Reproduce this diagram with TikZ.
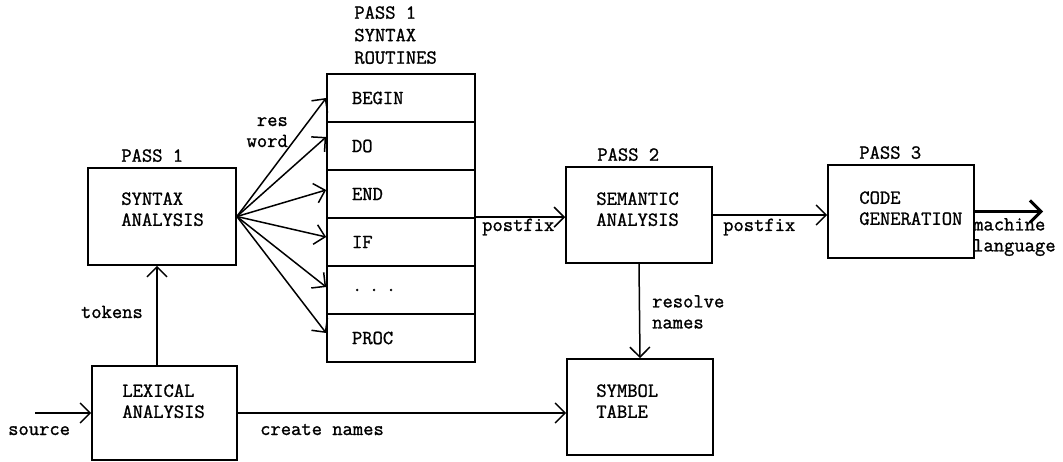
\documentclass[tikz,border=0pt]{standalone}
\usepackage{fontspec}
\newfontfamily\typefam{Latin Modern Mono}[FakeBold=1.2]
\usetikzlibrary{arrows.meta, positioning}
\newcommand{\typew}{\fontsize{20}{21}\selectfont\typefam}
\tikzset{
  passbox/.style={rectangle, draw, line width=1.7pt, minimum width=146pt,
                  minimum height=#1, inner sep=0pt},
  passbox/.default=96pt,
  rowbox/.style={rectangle, draw, line width=1.7pt, minimum width=148pt,
                 minimum height=48pt, text width=98pt, inner xsep=25pt,
                 inner ysep=0pt, align=left, font=\typew},
  boxtxt/.style={align=left, inner sep=0pt, font=\typew},
  arrow/.style={-{Straight Barb[length=10pt, width=20pt]}, line width=1.5pt},
  bigarrow/.style={-{Straight Barb[length=11pt, width=22pt]}, line width=3pt},
}

\begin{document}
\begin{tikzpicture}[x=1pt, y=-1pt]
  \useasboundingbox (0,0) rectangle (1063,462);

  % pass boxes
  \node[passbox=97pt, minimum width=148pt] (syn) at (162,216.5) {};
  \node[passbox=94pt, minimum width=145pt] (lex) at (164.5,413) {};
  \node[passbox] (sem) at (639,215) {};
  \node[passbox=93pt] (code) at (901,211.5) {};
  \node[passbox] (sym) at (640,407) {};

  \node[boxtxt, below right=25pt and 34pt of syn.north west] (syntxt) {SYNTAX\\ANALYSIS};
  \node[boxtxt, below right=19pt and 31pt of lex.north west] (lextxt) {LEXICAL\\ANALYSIS};
  \node[boxtxt, below right=26pt and 31pt of sem.north west] (semtxt) {SEMANTIC\\ANALYSIS};
  \node[boxtxt, below right=27pt and 32pt of code.north west] (codetxt) {CODE\\GENERATION};
  \node[boxtxt, below right=26pt and 30pt of sym.north west] (symtxt) {SYMBOL\\TABLE};

  \node[boxtxt, above right=5pt and 34pt of syn.north west] (synpass) {PASS 1};
  \node[boxtxt, above right=5pt and 32pt of sem.north west] (sempass) {PASS 2};
  \node[boxtxt, above right=5pt and 32pt of code.north west] (codepass) {PASS 3};

  % syntax routines
  \node[rowbox] (rbegin) at (401,98) {BEGIN};
  \node[rowbox] (rdo) at (401,146) {DO};
  \node[rowbox] (rend) at (401,194) {END};
  \node[rowbox] (rif) at (401,242) {IF};
  \node[rowbox] (rdots) at (401,290) {.\ .\ .};
  \node[rowbox] (rproc) at (401,338) {PROC};
  \node[boxtxt, above right=9pt and 28pt of rbegin.north west] (routhead) {PASS 1\\[1.5pt]SYNTAX\\[1.5pt]ROUTINES};

  \draw[arrow] (syn.east) -- (rbegin.west);
  \draw[arrow] (syn.east) -- ([yshift=9pt]rdo.west);
  \draw[arrow] (syn.east) -- ([yshift=4pt]rend.west);
  \draw[arrow] (syn.east) -- ([yshift=5pt]rif.west);
  \draw[arrow] (syn.east) -- ([yshift=3pt]rdots.west);
  \draw[arrow] (syn.east) -- ([yshift=5pt]rproc.west);
  \node[boxtxt, align=right, anchor=north east] (reslbl) at (288,117) {res\\word};

  % postfix flow
  \draw[arrow] (rif.north east) -- (rif.north east -| sem.west);
  \node[boxtxt, anchor=base west] (pf1) at (482,231) {postfix};
  \draw[arrow] (sem.east) -- (sem.east -| code.west);
  \node[boxtxt, anchor=base west] (pf2) at (723,231) {postfix};
  \coordinate (mout) at (1043,211.5);
  \draw[bigarrow] (code.east) -- (mout);
  \node[boxtxt, anchor=north west] (mlang) at (973,218) {machine\\language};

  % names
  \draw[arrow] (sem.south) -- (sym.north);
  \node[boxtxt, anchor=north west] (reslv) at (652,295) {resolve\\names};
  \draw[arrow] (lex.east) -- (lex.east -| sym.west);
  \node[boxtxt, anchor=base west] (crnames) at (260,435) {create names};

  % tokens and source
  \coordinate (tokup) at ([xshift=-5pt]syn.south);
  \draw[arrow] (tokup |- lex.north) -- (tokup);
  \node[boxtxt, anchor=base east] (toklbl) at (143,318) {tokens};
  \coordinate (src) at (35,413);
  \draw[arrow] (src) -- (lex.west);
  \node[boxtxt, anchor=base west] (srclbl) at (8,435) {source};
\end{tikzpicture}
\end{document}
